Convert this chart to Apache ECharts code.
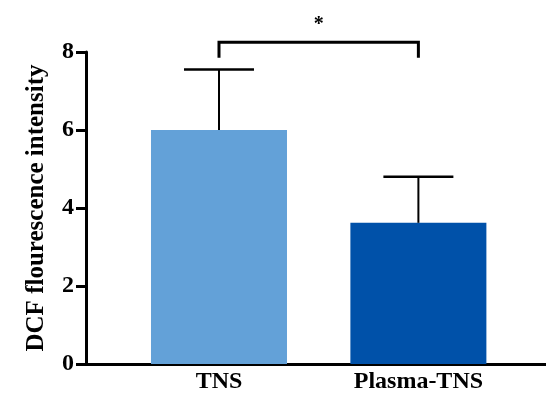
<!DOCTYPE html>
<html>
<head>
<meta charset="utf-8">
<script src="https://cdn.jsdelivr.net/npm/echarts@6/dist/echarts.min.js"></script>
<style>
  html, body { margin: 0; padding: 0; background: #fff; }
  #chart { width: 546px; height: 395px; }
</style>
</head>
<body>
<div id="chart"></div>
<script>
// 数据
var categories = ['TNS', 'Plasma-TNS'];
var positions = [1, 2];
var means = [6.0, 3.62];
var errors = [1.55, 1.18];
var barColors = ['#63A1D8', '#0051A9'];
var yTicks = [0, 2, 4, 6, 8];
// 显著性标记：[起点, 终点, 横线高度, 竖线底部, 标记]
var sigPair = [1, 2];
var sigTop = 8.25;
var sigBottom = 7.85;
var sigText = '*';

var font = 'Liberation Serif';

var barData = positions.map(function (p, i) {
  return { value: [p, means[i]], itemStyle: { color: barColors[i] } };
});
var errData = positions.map(function (p, i) {
  return [p, means[i], means[i] + errors[i]];
});

var option = {
  animation: false,
  grid: { left: 86, right: 0, top: 52, bottom: 31 },
  xAxis: {
    type: 'value',
    min: 0.333,
    max: 2.64,
    splitLine: { show: false },
    axisTick: { show: false },
    axisLine: { show: true, onZero: false, lineStyle: { color: '#000', width: 3 } },
    axisLabel: {
      customValues: positions,
      formatter: function (v) { return categories[Math.round(v) - 1] || ''; },
      color: '#000',
      fontFamily: font,
      fontWeight: 'bold',
      fontSize: 24,
      margin: 6
    }
  },
  yAxis: {
    type: 'value',
    min: yTicks[0],
    max: yTicks[yTicks.length - 1],
    interval: 2,
    name: 'DCF flourescence intensity',
    nameLocation: 'middle',
    nameGap: 37,
    nameTextStyle: { color: '#000', fontFamily: font, fontWeight: 'bold', fontSize: 25 },
    splitLine: { show: false },
    axisLine: { show: true, lineStyle: { color: '#000', width: 3 } },
    axisTick: { show: true, length: 10, lineStyle: { color: '#000', width: 3 } },
    axisLabel: { color: '#000', fontFamily: font, fontWeight: 'bold', fontSize: 24, margin: 12 }
  },
  series: [
    {
      type: 'bar',
      barWidth: 136,
      data: barData
    },
    {
      // 误差线
      type: 'custom',
      clip: false,
      z: 3,
      data: errData,
      renderItem: function (params, api) {
        var base = api.coord([api.value(0), api.value(1)]);
        var top = api.coord([api.value(0), api.value(2)]);
        var half = 35;
        return {
          type: 'group',
          children: [
            { type: 'line', shape: { x1: base[0], y1: base[1], x2: top[0], y2: top[1] },
              style: { stroke: '#000', lineWidth: 2 } },
            { type: 'line', shape: { x1: top[0] - half, y1: top[1], x2: top[0] + half, y2: top[1] },
              style: { stroke: '#000', lineWidth: 2.5 } }
          ]
        };
      }
    },
    {
      // 显著性括号
      type: 'custom',
      clip: false,
      z: 3,
      data: [[sigPair[0], sigPair[1], sigTop, sigBottom]],
      renderItem: function (params, api) {
        var a = api.coord([api.value(0), api.value(3)]);
        var b = api.coord([api.value(0), api.value(2)]);
        var c = api.coord([api.value(1), api.value(2)]);
        var d = api.coord([api.value(1), api.value(3)]);
        return {
          type: 'group',
          children: [
            { type: 'polyline', shape: { points: [a, b, c, d] },
              style: { stroke: '#000', lineWidth: 3, fill: null } },
            { type: 'text', x: (b[0] + c[0]) / 2, y: b[1] - 17,
              style: { text: sigText, fill: '#000', font: 'bold 20px ' + font,
                       align: 'center', verticalAlign: 'middle' } }
          ]
        };
      }
    }
  ]
};

var myChart = echarts.init(document.getElementById('chart'));
myChart.setOption(option);
window.addEventListener('resize', function () {
  myChart.resize();
});
</script>
</body>
</html>
